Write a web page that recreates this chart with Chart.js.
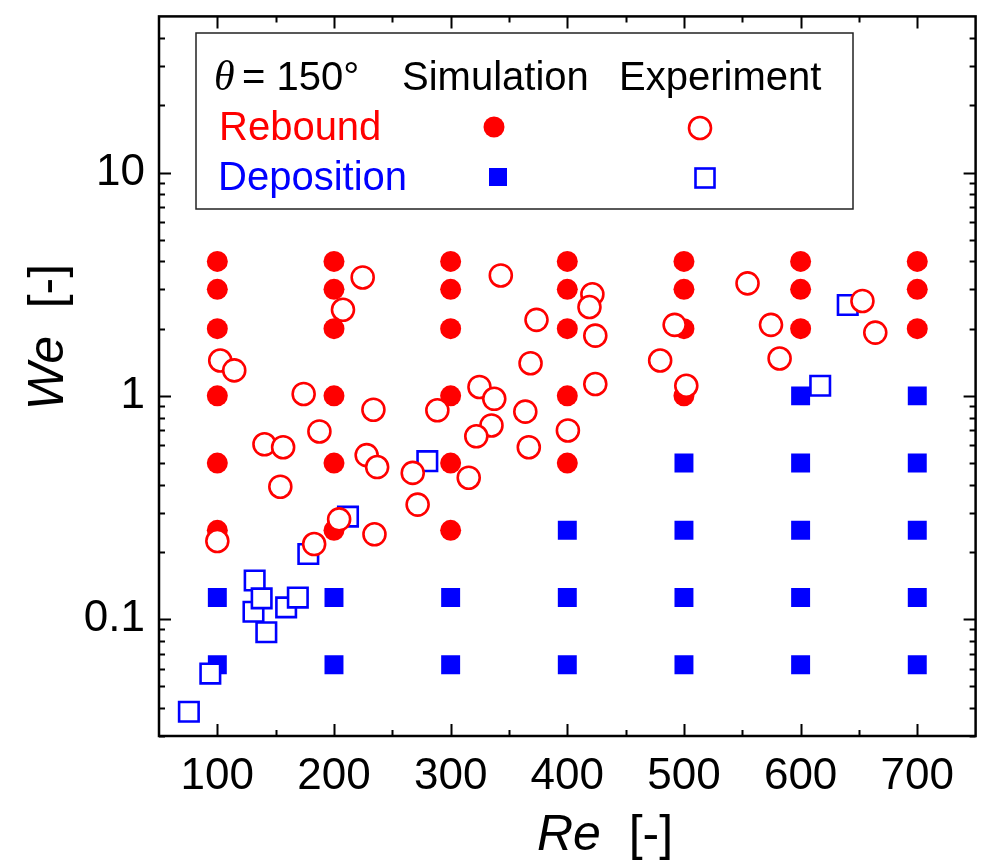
<!DOCTYPE html>
<html>
<head>
<meta charset="utf-8">
<script src="https://cdn.jsdelivr.net/npm/chart.js@4.4.0/dist/chart.umd.min.js"></script>
<style>
  html, body { margin: 0; padding: 0; background: #fff; overflow: hidden; }
  canvas { display: block; }
</style>
</head>
<body>
<canvas id="weChart" width="992" height="861"></canvas>
<script>
'use strict';

// Axis ticks
let reTicks = [100, 200, 300, 400, 500, 600, 700];
let weTicks = [0.1, 1, 10];

// Simulation - rebound (filled red circles)
let simReboundRe = [100, 100, 100, 100, 100, 100,
  200, 200, 200, 200, 200, 200,
  300, 300, 300, 300, 300, 300,
  400, 400, 400, 400, 400,
  500, 500, 500, 500,
  600, 600, 600,
  700, 700, 700];
let simReboundWe = [4, 3, 2, 1, 0.5, 0.25,
  4, 3, 2, 1, 0.5, 0.25,
  4, 3, 2, 1, 0.5, 0.25,
  4, 3, 2, 1, 0.5,
  4, 3, 2, 1,
  4, 3, 2,
  4, 3, 2];

// Simulation - deposition (filled blue squares)
let simDepositRe = [100, 100, 200, 200, 300, 300,
  400, 400, 400,
  500, 500, 500, 500,
  600, 600, 600, 600, 600,
  700, 700, 700, 700, 700];
let simDepositWe = [0.125, 0.0625, 0.125, 0.0625, 0.125, 0.0625,
  0.25, 0.125, 0.0625,
  0.5, 0.25, 0.125, 0.0625,
  1, 0.5, 0.25, 0.125, 0.0625,
  1, 0.5, 0.25, 0.125, 0.0625];

// Experiment - rebound (open red circles)
let expReboundRe = [102.5, 114.5, 100, 174, 224.6, 207.7, 233.8, 187.5, 140.4, 156.4,
  228, 237, 154, 267.5, 271.7, 288.6, 204.4, 234.7, 183,
  343, 421.5, 419, 373.6, 424, 492, 368.5, 479.6, 424, 502,
  324.7, 337.4, 364, 335, 322, 400.5, 367, 315.5,
  554.5, 653, 574.6, 664, 582];
let expReboundWe = [1.44, 1.30, 0.224, 1.02, 3.39, 2.43, 0.867, 0.693, 0.607, 0.589,
  0.543, 0.48, 0.392, 0.452, 0.326, 0.862, 0.28, 0.24, 0.217,
  3.46, 2.85, 2.5, 2.19, 1.86, 2.08, 1.40, 1.44, 1.13, 1.11,
  1.096, 0.97, 0.85, 0.737, 0.659, 0.70, 0.589, 0.43,
  3.19, 2.66, 2.08, 1.92, 1.47];

// Experiment - deposition (open blue squares)
let expDepositRe = [75.6, 94, 132, 131, 138, 142, 159, 169, 178, 212, 280, 616.8, 640.4];
let expDepositWe = [0.0385, 0.0571, 0.149, 0.108, 0.124, 0.0874, 0.113, 0.125, 0.196, 0.288, 0.51, 1.11, 2.55];

const SANS = '"Liberation Sans", Arial, sans-serif';
const SERIF = '"Liberation Serif", "Times New Roman", serif';
const RED = '#ff0000';
const BLUE = '#0000ff';

function toPoints(xs, ys) {
  return xs.map((x, i) => ({ x: x, y: ys[i] }));
}

// frame on all four sides with inward ticks
const frameTicks = {
  id: 'frameTicks',
  afterDraw(chart) {
    const ctx = chart.ctx;
    const a = chart.chartArea;
    const xs = chart.scales.x;
    const ys = chart.scales.y;
    ctx.save();
    ctx.strokeStyle = '#000';
    ctx.lineWidth = 2;
    ctx.beginPath();
    // x ticks
    for (let v = 100; v <= 700; v += 50) {
      let len = v % 100 === 0 ? 12 : 6;
      let px = Math.round(xs.getPixelForValue(v)) + 0.5;
      ctx.moveTo(px, a.bottom); ctx.lineTo(px, a.bottom - len);
      ctx.moveTo(px, a.top); ctx.lineTo(px, a.top + len);
    }
    // y ticks (log)
    for (let d = 0.01; d <= 10; d *= 10) {
      for (let k = 1; k <= 9; k++) {
        let v = k * d;
        if (v <= ys.min * 0.999 || v >= ys.max * 0.999) continue;
        let len = k === 1 ? 12 : 6;
        let py = Math.round(ys.getPixelForValue(v)) + 0.5;
        ctx.moveTo(a.left, py); ctx.lineTo(a.left + len, py);
        ctx.moveTo(a.right, py); ctx.lineTo(a.right - len, py);
      }
    }
    ctx.stroke();
    ctx.lineWidth = 2.5;
    ctx.strokeRect(a.left, a.top, a.right - a.left, a.bottom - a.top);
    ctx.restore();
  }
};

// legend box in upper left
const legendBox = {
  id: 'legendBox',
  afterDraw(chart) {
    const ctx = chart.ctx;
    ctx.save();
    ctx.fillStyle = '#fff';
    ctx.fillRect(196, 33, 657, 176);
    ctx.strokeStyle = '#222';
    ctx.lineWidth = 1.5;
    ctx.strokeRect(196, 33, 657, 176);

    ctx.textBaseline = 'alphabetic';
    ctx.textAlign = 'left';
    ctx.fillStyle = '#000';
    ctx.font = 'italic 42px ' + SERIF;
    ctx.fillText('\u03b8', 214, 90);
    ctx.font = '40px ' + SANS;
    ctx.fillText('= 150\u00b0', 242, 90);
    ctx.fillText('Simulation', 402, 90);
    ctx.fillText('Experiment', 619, 90);
    ctx.fillStyle = RED;
    ctx.fillText('Rebound', 219, 140);
    ctx.fillStyle = BLUE;
    ctx.fillText('Deposition', 218, 190);

    // markers
    ctx.fillStyle = RED;
    ctx.beginPath(); ctx.arc(494, 127, 10.5, 0, Math.PI * 2); ctx.fill();
    ctx.strokeStyle = RED; ctx.lineWidth = 2.6;
    ctx.beginPath(); ctx.arc(700, 128, 11, 0, Math.PI * 2); ctx.stroke();
    ctx.fillStyle = BLUE;
    ctx.fillRect(489, 168, 18, 18);
    ctx.strokeStyle = BLUE;
    ctx.strokeRect(695.5, 168.5, 19, 19);
    ctx.restore();
  }
};

// axis titles: italic symbol + normal unit
const axisTitles = {
  id: 'axisTitles',
  afterDraw(chart) {
    const ctx = chart.ctx;
    ctx.save();
    ctx.fillStyle = '#000';
    ctx.textBaseline = 'alphabetic';
    ctx.textAlign = 'left';
    let it = 'italic 50px ' + SANS;
    let nm = '50px ' + SANS;

    // x title
    ctx.font = it;
    let w1 = ctx.measureText('Re').width;
    ctx.font = nm;
    let w2 = ctx.measureText('  [-]').width;
    let x0 = 605 - (w1 + w2) / 2;
    ctx.font = it; ctx.fillText('Re', x0, 850);
    ctx.font = nm; ctx.fillText('  [-]', x0 + w1, 850);

    // y title, rotated
    ctx.translate(63, 337);
    ctx.rotate(-Math.PI / 2);
    ctx.font = it;
    w1 = ctx.measureText('We').width;
    ctx.font = nm;
    w2 = ctx.measureText('  [-]').width;
    x0 = -(w1 + w2) / 2;
    ctx.font = it; ctx.fillText('We', x0, 0);
    ctx.font = nm; ctx.fillText('  [-]', x0 + w1, 0);
    ctx.restore();
  }
};

const ctx = document.getElementById('weChart');
new Chart(ctx, {
  type: 'scatter',
  data: {
    datasets: [
      {
        label: 'Rebound (Experiment)',
        data: toPoints(expReboundRe, expReboundWe),
        pointStyle: 'circle',
        pointRadius: 11,
        borderWidth: 2.6,
        borderColor: RED,
        backgroundColor: '#fff'
      },
      {
        label: 'Deposition (Experiment)',
        data: toPoints(expDepositRe, expDepositWe),
        pointStyle: 'rect',
        pointRadius: 13.8,
        borderWidth: 2.6,
        borderColor: BLUE,
        backgroundColor: '#fff'
      },
      {
        label: 'Rebound (Simulation)',
        data: toPoints(simReboundRe, simReboundWe),
        pointStyle: 'circle',
        pointRadius: 10.5,
        borderWidth: 0,
        borderColor: RED,
        backgroundColor: RED
      },
      {
        label: 'Deposition (Simulation)',
        data: toPoints(simDepositRe, simDepositWe),
        pointStyle: 'rect',
        pointRadius: 13.4,
        borderWidth: 0,
        borderColor: BLUE,
        backgroundColor: BLUE
      }
    ]
  },
  options: {
    responsive: false,
    animation: false,
    events: [],
    layout: { padding: { top: 8, right: 1, left: 0, bottom: 0 } },
    plugins: {
      legend: { display: false },
      tooltip: { enabled: false }
    },
    scales: {
      x: {
        type: 'linear',
        min: 50,
        max: 750,
        afterBuildTicks: function(scale) {
          scale.ticks = reTicks.map(v => ({ value: v }));
        },
        afterFit: function(scale) {
          scale.height = 125;
          scale.paddingLeft = 0;
          scale.paddingRight = 0;
        },
        grid: { display: false, drawTicks: false },
        border: { display: false },
        ticks: {
          color: '#000',
          font: { family: SANS, size: 44 },
          padding: 14,
          maxRotation: 0,
          autoSkip: false
        }
      },
      y: {
        type: 'logarithmic',
        min: 0.03,
        max: 50,
        afterBuildTicks: function(scale) {
          scale.ticks = weTicks.map(v => ({ value: v }));
        },
        afterFit: function(scale) {
          scale.width = 159;
          scale.paddingTop = 0;
          scale.paddingBottom = 0;
        },
        grid: { display: false, drawTicks: false },
        border: { display: false },
        ticks: {
          color: '#000',
          font: { family: SANS, size: 44 },
          padding: 14,
          autoSkip: false,
          callback: function(value) { return String(value); }
        }
      }
    }
  },
  plugins: [frameTicks, legendBox, axisTitles]
});
</script>
</body>
</html>
